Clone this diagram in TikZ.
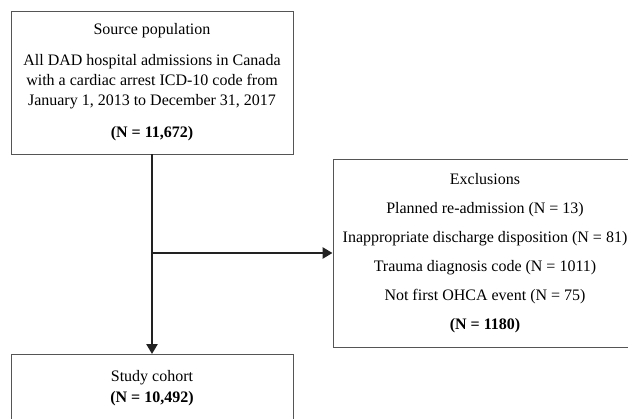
\documentclass[tikz,border=0pt]{standalone}
\usepackage{fontspec}
\setmainfont{Liberation Serif}
\usetikzlibrary{arrows.meta}
\definecolor{boxgray}{HTML}{555555}
\definecolor{linegray}{HTML}{222222}
\tikzset{
  box/.style={draw=boxgray, line width=0.9pt, align=center, inner sep=0pt,
    font=\fontsize{16}{20}\selectfont},
  flow/.style={draw=linegray, line width=2.8pt,
    -{Triangle[length=10pt,width=11pt]}}
}
\begin{document}
\begin{tikzpicture}[x=1pt, y=-1pt]
            \clip (0,0) rectangle (628,418);
            \fill[white] (0,0) rectangle (628,418);

            % Boxes
            \node[box, minimum width=282pt, minimum height=143pt] (src) at (152,82.5)
                {Source population\\[11pt]
                 All DAD hospital admissions in Canada\\
                 with a cardiac arrest ICD-10 code from\\
                 January 1, 2013 to December 31, 2017\\[12pt]
                 \textbf{(N = 11,672)}};
            \node[box, minimum width=304pt, minimum height=188pt] (excl) at (485,253)
                {Exclusions\\[9pt]
                 Planned re-admission (N = 13)\\[9pt]
                 Inappropriate discharge disposition (N = 81)\\[9pt]
                 Trauma diagnosis code (N = 1011)\\[9pt]
                 Not first OHCA event (N = 75)\\[9pt]
                 \textbf{(N = 1180)}};
            \node[box, minimum width=282pt, minimum height=84pt, anchor=north] (study) at (152,354)
                {Study cohort\\[1pt]
                 \textbf{(N = 10,492)}\\[1pt]\mbox{}};

            % Arrows
            \coordinate (split) at (src.south |- excl.west);
            \draw[flow] (src.south) -- (study.north);
            \draw[flow] (split) -- (excl.west);

        \end{tikzpicture}
\end{document}
